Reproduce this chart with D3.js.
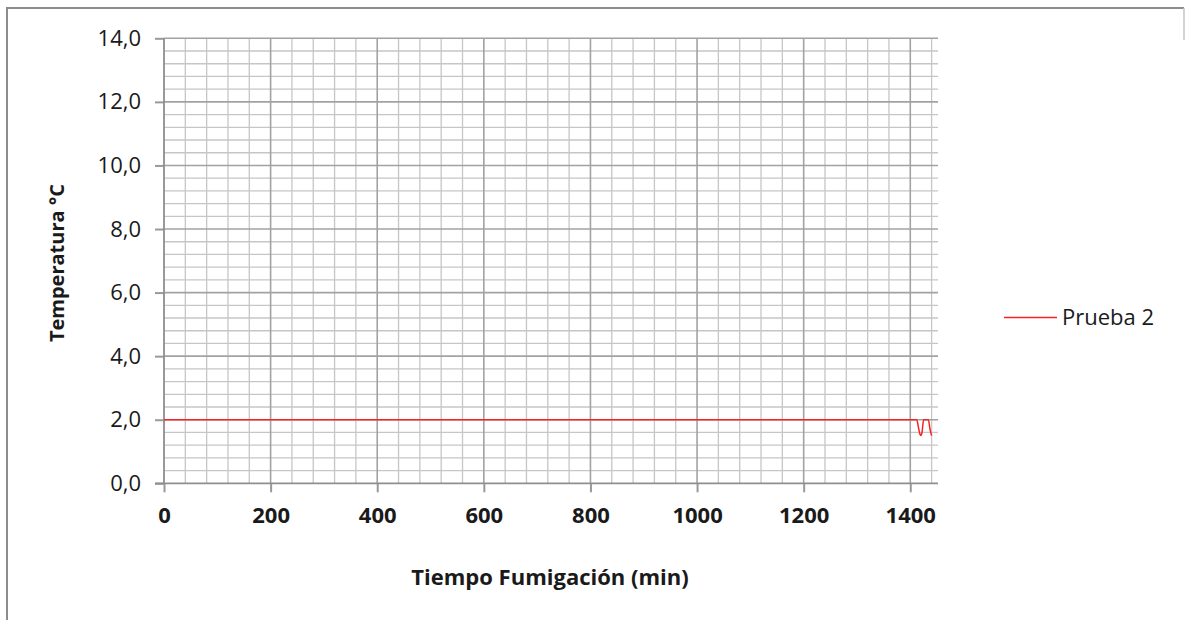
<!DOCTYPE html>
<html>
<head>
<meta charset="utf-8">
<script src="https://d3js.org/d3.v7.min.js"></script>
<style>
  html, body { margin: 0; padding: 0; background: #fff; }
  svg { display: block; }
  text { font-family: "Open Sans", Lato, sans-serif; fill: #1a1a1a; }
</style>
</head>
<body>
<script>
// Temperature log of fumigation trial "Prueba 2"
const times = [0, 1412, 1416, 1418, 1420, 1422, 1425, 1434, 1437, 1440];   // minutes
const temps = [2.0, 2.0, 1.7, 1.55, 1.5, 1.6, 2.0, 2.0, 1.7, 1.5];         // °C
const seriesName = "Prueba 2";
const xTicks = [0, 200, 400, 600, 800, 1000, 1200, 1400];
const yTicks = [0, 2, 4, 6, 8, 10, 12, 14];
const xTitle = "Tiempo Fumigación (min)";
const yTitle = "Temperatura °C";

const W = 1185, H = 620;
const plot = { left: 164, right: 938, top: 38.3, bottom: 483.3 };
const FONT = "'Open Sans', Lato, sans-serif";

const svg = d3.select("body").append("svg").attr("width", W).attr("height", H);

// outer frame (top and left edges, short right piece)
svg.append("line").attr("x1", 7).attr("x2", 1184).attr("y1", 8).attr("y2", 8)
  .attr("stroke", "#8c8c8c").attr("stroke-width", 2);
svg.append("line").attr("x1", 7).attr("x2", 7).attr("y1", 7).attr("y2", H)
  .attr("stroke", "#8c8c8c").attr("stroke-width", 2);
svg.append("line").attr("x1", 1184).attr("x2", 1184).attr("y1", 8).attr("y2", 40)
  .attr("stroke", "#c4c4c4").attr("stroke-width", 1.5);

const x = d3.scaleLinear().domain([0, 1452]).range([plot.left, plot.right]);
const y = d3.scaleLinear().domain([0, 14]).range([plot.bottom, plot.top]);

const grid = svg.append("g");
// minor gridlines
const xMinor = d3.range(0, 1441, 40).filter(v => v % 200 !== 0);
const yMinor = d3.range(0, 14.01, 0.4).filter(v => Math.abs(v / 2 - Math.round(v / 2)) > 1e-6);
grid.selectAll(".vx").data(xMinor).join("line")
  .attr("x1", d => x(d)).attr("x2", d => x(d))
  .attr("y1", plot.top).attr("y2", plot.bottom)
  .attr("stroke", "#c6c6c6").attr("stroke-width", 1.3);
grid.selectAll(".hy").data(yMinor).join("line")
  .attr("x1", plot.left).attr("x2", plot.right)
  .attr("y1", d => y(d)).attr("y2", d => y(d))
  .attr("stroke", "#c6c6c6").attr("stroke-width", 1.3);
// major gridlines
grid.selectAll(".vX").data(xTicks.filter(v => v > 0)).join("line")
  .attr("x1", d => x(d)).attr("x2", d => x(d))
  .attr("y1", plot.top).attr("y2", plot.bottom)
  .attr("stroke", "#a2a2a2").attr("stroke-width", 1.6);
grid.selectAll(".hY").data(yTicks.filter(v => v > 0)).join("line")
  .attr("x1", plot.left).attr("x2", plot.right)
  .attr("y1", d => y(d)).attr("y2", d => y(d))
  .attr("stroke", "#a2a2a2").attr("stroke-width", 1.6);

// axes
const yAxis = svg.append("g").attr("transform", `translate(${plot.left},0)`)
  .call(d3.axisLeft(y).tickValues(yTicks).tickSize(9).tickPadding(14)
    .tickFormat(d => d3.format(".1f")(d).replace(".", ",")));
const xAxis = svg.append("g").attr("transform", `translate(0,${plot.bottom})`)
  .call(d3.axisBottom(x).tickValues(xTicks).tickSize(9).tickPadding(15)
    .tickFormat(d3.format("d")));
[xAxis, yAxis].forEach(a => {
  a.select(".domain").remove();
  a.selectAll(".tick line").attr("stroke", "#999").attr("stroke-width", 2);
});
yAxis.append("line").attr("x1", 0).attr("x2", 0).attr("y1", plot.top).attr("y2", plot.bottom)
  .attr("stroke", "#8e8e8e").attr("stroke-width", 1.8);
xAxis.append("line").attr("x1", plot.left - 9).attr("x2", plot.right).attr("y1", 0).attr("y2", 0)
  .attr("stroke", "#8e8e8e").attr("stroke-width", 1.8);
yAxis.selectAll(".tick text").style("font-family", FONT)
  .attr("font-size", 22).attr("fill", "#1a1a1a");
xAxis.selectAll(".tick text").style("font-family", FONT)
  .attr("font-size", 22).attr("font-weight", "bold").attr("fill", "#1a1a1a");

// series line
const pts = times.map((t, i) => [t, temps[i]]);
svg.append("path").datum(pts)
  .attr("fill", "none").attr("stroke", "#f42424").attr("stroke-width", 1.5)
  .attr("d", d3.line().x(d => x(d[0])).y(d => y(d[1])).curve(d3.curveMonotoneX));

// axis titles
svg.append("text").attr("x", 550).attr("y", 585).attr("text-anchor", "middle")
  .attr("font-size", 22).attr("font-weight", "bold").text(xTitle);
svg.append("text").attr("transform", "translate(64,263) rotate(-90)").attr("text-anchor", "middle")
  .attr("font-size", 20).attr("font-weight", "bold").text(yTitle);

// legend
svg.append("line").attr("x1", 1004).attr("x2", 1057).attr("y1", 317.5).attr("y2", 317.5)
  .attr("stroke", "#f42424").attr("stroke-width", 1.5);
svg.append("text").attr("x", 1062).attr("y", 325).attr("font-size", 22).text(seriesName);
</script>
</body>
</html>
